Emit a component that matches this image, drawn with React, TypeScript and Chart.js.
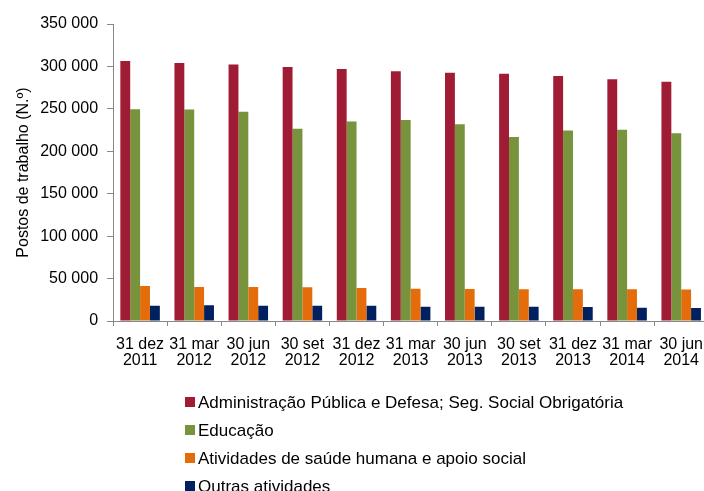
import React, { useEffect, useRef } from "react";
import { Chart, registerables } from "chart.js";

Chart.register(...registerables);

const categories: string[][] = [
  ["31 dez", "2011"],
  ["31 mar", "2012"],
  ["30 jun", "2012"],
  ["30 set", "2012"],
  ["31 dez", "2012"],
  ["31 mar", "2013"],
  ["30 jun", "2013"],
  ["30 set", "2013"],
  ["31 dez", "2013"],
  ["31 mar", "2014"],
  ["30 jun", "2014"],
];

const adminPublica = [306500, 303900, 302400, 299300, 297000, 294300, 292500, 291300, 288800, 284900, 281800];
const educacao = [249600, 249300, 246500, 226500, 235000, 237000, 231800, 216900, 224400, 225500, 221200];
const saude = [41200, 40000, 40000, 39800, 38800, 38100, 37700, 37400, 37400, 37300, 37000];
const outras = [17900, 18700, 17900, 17900, 17900, 16800, 16800, 16800, 16500, 15700, 15300];

const seriesNames = [
  "Administração Pública e Defesa; Seg. Social Obrigatória",
  "Educação",
  "Atividades de saúde humana e apoio social",
  "Outras atividades",
];
const seriesColors = ["#A01C34", "#77933C", "#E46C0A", "#002060"];

const yTicks = [0, 50000, 100000, 150000, 200000, 250000, 300000, 350000];

const FONT = "'Liberation Sans', Arial, sans-serif";

const fmt = (v: number) => {
  const s = Math.round(v).toString();
  return s.replace(/\B(?=(\d{3})+(?!\d))/g, " ");
};

const legendPlugin = {
  id: "stackedLegend",
  afterDraw(chart: any) {
    const ctx = chart.ctx;
    const area = chart.chartArea;
    ctx.save();
    ctx.font = `17px ${FONT}`;
    ctx.textBaseline = "middle";
    ctx.textAlign = "left";
    const left = 185;
    const firstY = area.bottom + 81;
    const step = 28;
    chart.data.datasets.forEach((ds: any, i: number) => {
      const cy = firstY + i * step;
      ctx.fillStyle = ds.backgroundColor;
      ctx.fillRect(left, cy - 5, 10, 10);
      ctx.fillStyle = "#000";
      ctx.fillText(ds.label, left + 13, cy + 1);
    });
    ctx.restore();
  },
};

export default function App() {
  const canvasRef = useRef<HTMLCanvasElement | null>(null);

  useEffect(() => {
    if (!canvasRef.current) return;
    const datasets = [adminPublica, educacao, saude, outras].map((d, i) => ({
      label: seriesNames[i],
      data: d,
      backgroundColor: seriesColors[i],
      borderWidth: 0,
      barPercentage: 1.0,
      categoryPercentage: 0.73,
    }));
    const chart = new Chart(canvasRef.current, {
      type: "bar",
      data: { labels: categories, datasets },
      options: {
        animation: false,
        responsive: true,
        maintainAspectRatio: false,
        layout: { padding: { left: 10, top: 24, right: 0, bottom: 111 } },
        plugins: {
          legend: { display: false },
          tooltip: { enabled: false },
        },
        scales: {
          x: {
            offset: true,
            grid: {
              offset: true,
              drawOnChartArea: false,
              drawTicks: true,
              tickLength: 5,
              color: "#888888",
            },
            border: { color: "#888888", width: 1 },
            ticks: {
              color: "#000",
              font: { family: FONT, size: 16, lineHeight: 1.0 },
              padding: 11,
              maxRotation: 0,
              autoSkip: false,
            },
          },
          y: {
            min: 0,
            max: 350000,
            afterBuildTicks: (axis: any) => {
              axis.ticks = yTicks.map((v) => ({ value: v }));
            },
            grid: {
              drawOnChartArea: false,
              drawTicks: true,
              tickLength: 6,
              color: "#888888",
            },
            border: { color: "#888888", width: 1 },
            ticks: {
              color: "#000",
              font: { family: FONT, size: 16 },
              padding: 9,
              callback: (v: any) => fmt(Number(v)),
            },
            title: {
              display: true,
              text: "Postos de trabalho (N.º)",
              color: "#000",
              font: { family: FONT, size: 16 },
              padding: { top: 4, bottom: -2 },
            },
          },
        },
      },
      plugins: [legendPlugin],
    });
    return () => chart.destroy();
  }, []);

  return (
    <div
      style={{
        position: "fixed",
        left: 0,
        top: 0,
        width: 704,
        height: 491,
        overflow: "hidden",
        background: "#fff",
      }}
    >
      <div style={{ position: "relative", width: 714, height: 491 }}>
        <canvas ref={canvasRef} />
      </div>
    </div>
  );
}
